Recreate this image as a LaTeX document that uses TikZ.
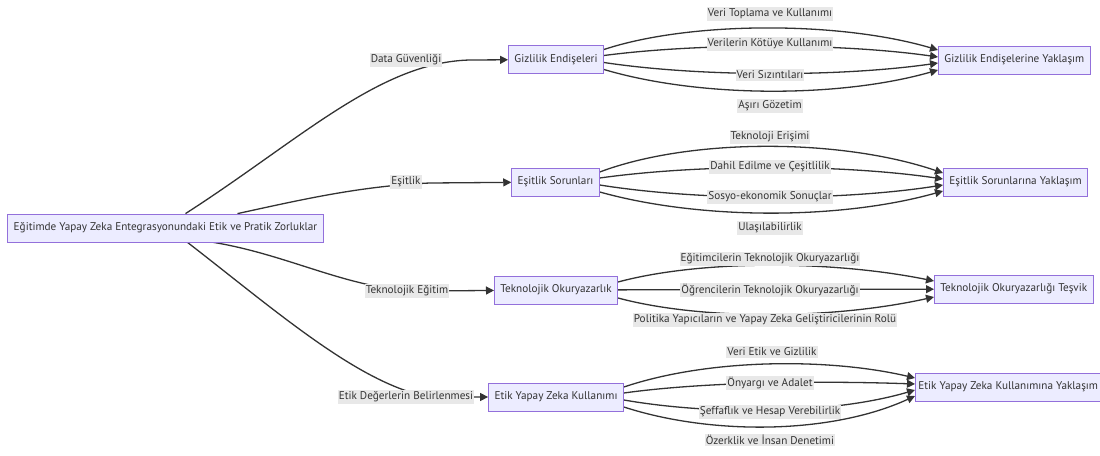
\documentclass[tikz,border=0pt]{standalone}
\usepackage{fontspec}
\setmainfont{PT Sans}
\usepackage{xcolor}
\usetikzlibrary{arrows.meta,backgrounds}
\definecolor{boxfill}{HTML}{ECECFF}
\definecolor{boxline}{HTML}{9370DB}
\definecolor{inkgray}{HTML}{333333}
\definecolor{tagfill}{HTML}{E8E8E8}
\tikzset{
  topic/.style={draw=boxline, fill=boxfill, line width=0.8pt, minimum height=28pt, inner xsep=6pt, text=inkgray, font=\fontsize{11.2}{13}\selectfont},
  tag/.style={fill=tagfill, inner xsep=1pt, inner ysep=1.5pt, text=inkgray, font=\fontsize{11.2}{13}\selectfont},
  link/.style={draw=inkgray, line width=1.3pt},
  arrowlink/.style={link, -{Triangle[length=8pt,width=8pt]}},
}

\begin{document}
\begin{tikzpicture}[x=1pt, y=-1pt]
  \path[use as bounding box, clip] (0,0) rectangle (1100,455);

  % boxes
  \node[topic] (root) at (165.5,228) {Eğitimde Yapay Zeka Entegrasyonundaki Etik ve Pratik Zorluklar};
  \node[topic] (gz) at (556,59.5) {Gizlilik Endişeleri};
  \node[topic] (es) at (555.5,182) {Eşitlik Sorunları};
  \node[topic] (to) at (556,290) {Teknolojik Okuryazarlık};
  \node[topic] (ey) at (556,397) {Etik Yapay Zeka Kullanımı};
  \node[topic, anchor=west] (gzy) at (938,60) {Gizlilik Endişelerine Yaklaşım};
  \node[topic, anchor=west] (esy) at (943,182) {Eşitlik Sorunlarına Yaklaşım};
  \node[topic, anchor=west] (toy) at (934,289) {Teknolojik Okuryazarlığı Teşvik};
  \node[topic, anchor=west, inner xsep=3pt] (eyy) at (915,387) {Etik Yapay Zeka Kullanımına Yaklaşım};

  % labels
  \node[tag] (dg) at (406,60) {Data Güvenliği};
  \node[tag] (eq) at (406,182) {Eşitlik};
  \node[tag] (te) at (407,291) {Teknolojik Eğitim};
  \node[tag] (ed) at (406,397) {Etik Değerlerin Belirlenmesi};
  \node[tag] (g1) at (770,14) {Veri Toplama ve Kullanımı};
  \node[tag] (g2) at (770,44) {Verilerin Kötüye Kullanımı};
  \node[tag] (g3) at (770,75) {Veri Sızıntıları};
  \node[tag] (g4) at (770,106) {Aşırı Gözetim};
  \node[tag] (s1) at (770,137) {Teknoloji Erişimi};
  \node[tag] (s2) at (770,167) {Dahil Edilme ve Çeşitlilik};
  \node[tag] (s3) at (770,197) {Sosyo-ekonomik Sonuçlar};
  \node[tag] (s4) at (770,228) {Ulaşılabilirlik};
  \node[tag] (t1) at (770,259) {Eğitimcilerin Teknolojik Okuryazarlığı};
  \node[tag] (t2) at (770,290) {Öğrencilerin Teknolojik Okuryazarlığı};
  \node[tag] (t3) at (765,320) {Politika Yapıcıların ve Yapay Zeka Geliştiricilerinin Rolü};
  \node[tag] (e1) at (772,352) {Veri Etik ve Gizlilik};
  \node[tag] (e2) at (770,383) {Önyargı ve Adalet};
  \node[tag] (e3) at (770,412) {Şeffaflık ve Hesap Verebilirlik};
  \node[tag] (e4) at (770,440) {Özerklik ve İnsan Denetimi};

  \begin{pgfonlayer}{background}
    % root to first column
    \draw[arrowlink] ([xshift=20pt]root.north) .. controls (300,140) and (380,62) .. (470,60) -- (gz);
    \draw[arrowlink] ([xshift=72pt]root.north) .. controls (300,200) and (360,186) .. (430,183) -- (es);
    \draw[arrowlink] ([xshift=48pt]root.south) .. controls (290,255) and (350,290) .. (420,291) -- (to);
    \draw[arrowlink] ([xshift=22pt]root.south) .. controls (275,310) and (360,385) .. (430,397) -- (ey);

    % privacy
    \draw[arrowlink] ([yshift=10pt]gz.east) .. controls (690,21) and (840,21) .. ([yshift=10pt]gzy.west);
    \draw[arrowlink] ([yshift=4pt]gz.east) .. controls (700,43) and (840,43) .. ([yshift=3pt]gzy.west);
    \draw[arrowlink] ([yshift=-3pt]gz.east) .. controls (700,77) and (840,77) .. ([yshift=-3pt]gzy.west);
    \draw[arrowlink] ([yshift=-10pt]gz.east) .. controls (700,98) and (840,98) .. ([yshift=-10pt]gzy.west);

    % equity
    \draw[arrowlink] ([yshift=10pt]es.east) .. controls (690,138) and (840,138) .. ([yshift=9pt]esy.west);
    \draw[arrowlink] ([yshift=4pt]es.east) .. controls (700,164) and (840,164) .. ([yshift=3pt]esy.west);
    \draw[arrowlink] ([yshift=-3pt]es.east) .. controls (700,201) and (840,201) .. ([yshift=-3pt]esy.west);
    \draw[arrowlink] ([yshift=-10pt]es.east) .. controls (700,220) and (840,220) .. ([yshift=-9pt]esy.west);

    % literacy
    \draw[arrowlink] ([yshift=8pt]to.east) .. controls (700,260) and (830,260) .. ([yshift=8pt]toy.west);
    \draw[arrowlink] (to) -- (toy);
    \draw[arrowlink] ([yshift=-8pt]to.east) .. controls (700,320) and (830,320) .. ([yshift=-8pt]toy.west);

    % ethics
    \draw[arrowlink] ([yshift=10pt]ey.east) .. controls (710,358) and (830,358) .. ([yshift=9pt]eyy.west);
    \draw[arrowlink] ([yshift=4pt]ey.east) .. controls (710,381) and (830,381) .. ([yshift=3pt]eyy.west);
    \draw[arrowlink] ([yshift=-3pt]ey.east) .. controls (710,415) and (830,415) .. ([yshift=-3pt]eyy.west);
    \draw[arrowlink] ([yshift=-10pt]ey.east) .. controls (710,435) and (830,435) .. ([yshift=-9pt]eyy.west);
  \end{pgfonlayer}
\end{tikzpicture}
\end{document}
